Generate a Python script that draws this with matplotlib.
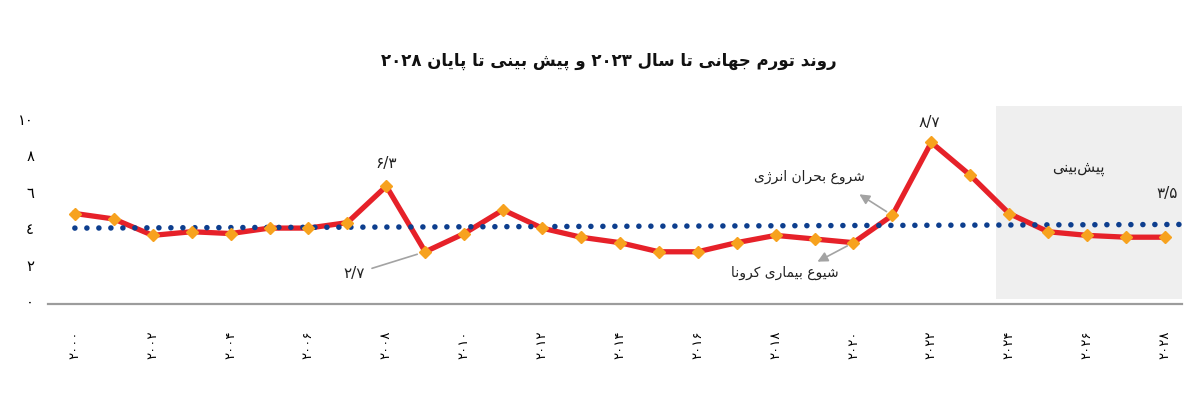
import matplotlib
matplotlib.use("Agg")
import matplotlib.pyplot as plt
from matplotlib import font_manager
from matplotlib.ft2font import FT2Font

# --- data -------------------------------------------------------------
years = list(range(2000, 2029))
inflation = [4.8, 4.5, 3.6, 3.8, 3.7, 4.0, 4.0, 4.3, 6.3, 2.7,
             3.7, 5.0, 4.0, 3.5, 3.2, 2.7, 2.7, 3.2, 3.6, 3.4,
             3.2, 4.7, 8.7, 6.9, 4.8, 3.8, 3.6, 3.5, 3.5]
trend_years = [2000, 2028.4]
trend_values = [4.0, 4.2]
forecast_from = 2023.65

x_ticks = list(range(2000, 2029, 2))
x_labels = ['۲۰۰۰', '۲۰۰۲', '۲۰۰۴', '۲۰۰۶', '۲۰۰۸', '۲۰۱۰', '۲۰۱۲', '۲۰۱۴',
            '۲۰۱۶', '۲۰۱۸', '۲۰۲۰', '۲۰۲۲', '۲۰۲۴', '۲۰۲۶', '۲۰۲۸']
y_ticks = [0, 2, 4, 6, 8, 10]
y_labels = ['۰', '۲', '٤', '٦', '۸', '۱۰']

title = 'روند تورم جهانی تا سال ۲۰۲۳ و پیش بینی تا پایان ۲۰۲۸'
value_notes = {2008: '۶/۳', 2009: '۲/۷', 2022: '۸/۷', 2028: '۳/۵'}
energy_note = 'شروع بحران انرژی'
covid_note = 'شیوع بیماری کرونا'
forecast_note = 'پیش\u200cبینی'

# --- minimal Persian shaping (matplotlib has no text shaping) ----------
# iso, final, initial, medial
FORMS = {
    'ا': (0xFE8D, 0xFE8E, None, None), 'ب': (0xFE8F, 0xFE90, 0xFE91, 0xFE92),
    'پ': (0xFB56, 0xFB57, 0xFB58, 0xFB59), 'ت': (0xFE95, 0xFE96, 0xFE97, 0xFE98),
    'ج': (0xFE9D, 0xFE9E, 0xFE9F, 0xFEA0), 'ح': (0xFEA1, 0xFEA2, 0xFEA3, 0xFEA4),
    'د': (0xFEA9, 0xFEAA, None, None), 'ر': (0xFEAD, 0xFEAE, None, None),
    'ز': (0xFEAF, 0xFEB0, None, None), 'ژ': (0xFB8A, 0xFB8B, None, None),
    'س': (0xFEB1, 0xFEB2, 0xFEB3, 0xFEB4), 'ش': (0xFEB5, 0xFEB6, 0xFEB7, 0xFEB8),
    'ع': (0xFEC9, 0xFECA, 0xFECB, 0xFECC), 'ک': (0xFB8E, 0xFB8F, 0xFB90, 0xFB91),
    'ل': (0xFEDD, 0xFEDE, 0xFEDF, 0xFEE0), 'م': (0xFEE1, 0xFEE2, 0xFEE3, 0xFEE4),
    'ن': (0xFEE5, 0xFEE6, 0xFEE7, 0xFEE8), 'ه': (0xFEE9, 0xFEEA, 0xFEEB, 0xFEEC),
    'و': (0xFEED, 0xFEEE, None, None), 'ی': (0xFBFC, 0xFBFD, 0xFBFE, 0xFBFF),
}


def fa(text):
    out = []
    for i, ch in enumerate(text):
        if ch not in FORMS:
            if ch != '\u200c':
                out.append(ch)
            continue
        prev = text[i - 1] if i > 0 else ''
        nxt = text[i + 1] if i + 1 < len(text) else ''
        join_prev = prev in FORMS and FORMS[prev][2] is not None
        join_next = nxt in FORMS and FORMS[ch][2] is not None
        iso, fin, ini, med = FORMS[ch]
        if join_prev and join_next:
            cp = med
        elif join_prev:
            cp = fin
        elif join_next:
            cp = ini
        else:
            cp = iso
        out.append(chr(cp))
    shaped = ''.join(out)
    if not any(c in FORMS for c in text):
        return shaped
    words = [w[::-1] if any(0xFB50 <= ord(c) <= 0xFEFF for c in w) else w
             for w in shaped.split(' ')]
    return ' '.join(reversed(words))


def weight_for(text, wanted):
    path = font_manager.findfont(font_manager.FontProperties(family='DejaVu Sans', weight=wanted))
    cmap = FT2Font(path).get_charmap()
    return wanted if all(ord(c) in cmap for c in text if c != ' ') else 'normal'


plt.rcParams['font.family'] = ['DejaVu Sans']

RED = '#e62129'
ORANGE = '#f7a21e'
BLUE = '#0d3e8e'
GREY = '#a3a3a3'

fig = plt.figure(figsize=(12, 4.03), dpi=100)
ax = fig.add_axes([0.04, 0.2457, 0.945, 0.4913])

ax.set_xlim(1999.31, 2028.44)
ax.set_ylim(-0.165, 10.7)

ax.axvspan(forecast_from, 2028.44, ymin=0.025, ymax=1, color='#efefef', lw=0, zorder=0)

ax.plot(years, inflation, color=RED, lw=3.8, solid_joinstyle='miter', zorder=2)
ax.plot(trend_years, trend_values, color=BLUE, lw=4.0, linestyle=(0, (0.01, 2.15)),
        dash_capstyle='round', zorder=3)
ax.plot(years, inflation, ls='none', marker='D', ms=6.4, color=ORANGE, mec=ORANGE, zorder=4)

for side in ['top', 'right', 'left']:
    ax.spines[side].set_visible(False)
ax.spines['bottom'].set_color('#9c9c9c')
ax.spines['bottom'].set_linewidth(1.6)

ax.set_xticks(x_ticks)
ax.set_xticklabels(x_labels, rotation=90, fontsize=9.5)
ax.set_yticks(y_ticks)
ax.set_yticklabels(y_labels, fontsize=10.5)
ax.tick_params(axis='x', length=0, pad=19)
ax.tick_params(axis='y', length=0, pad=10)

fig.text(0.5075, 0.849, fa(title), ha='center', va='center', fontsize=12,
         fontweight=weight_for(fa(title), 'bold'), color='#111111')

# value labels
offsets = {2008: (0, 23, 'center'), 2009: (-60, -22, 'right'),
           2022: (-2, 20, 'center'), 2028: (2, 44, 'center')}
for yr, txt in value_notes.items():
    dx, dy, ha = offsets[yr]
    val = inflation[years.index(yr)]
    props = None
    if yr == 2009:
        props = dict(arrowstyle='-', color=GREY, lw=1.2, shrinkA=3, shrinkB=6)
    ax.annotate(txt, xy=(yr, val), xytext=(dx, dy), textcoords='offset pixels',
                ha=ha, va='center', fontsize=11, color='#222222', arrowprops=props, zorder=5)

# event arrows
arrow = dict(arrowstyle='<|-,head_length=0.6,head_width=0.3', color=GREY, lw=1.2,
             shrinkA=0, shrinkB=5)
v2021 = inflation[years.index(2021)]
v2020 = inflation[years.index(2020)]
ax.annotate('', xy=(2021, v2021), xytext=(-33, 21), textcoords='offset pixels',
            arrowprops=arrow, zorder=5)
ax.annotate(fa(energy_note), xy=(2021, v2021), xytext=(-83, 38), textcoords='offset pixels',
            ha='center', va='center', fontsize=10, color='#222222')
ax.annotate('', xy=(2020, v2020), xytext=(-36, -19), textcoords='offset pixels',
            arrowprops=arrow, zorder=5)
ax.annotate(fa(covid_note), xy=(2020, v2020), xytext=(-69, -30), textcoords='offset pixels',
            ha='center', va='center', fontsize=10, color='#222222')

ax.text(0.909, 0.682, fa(forecast_note), transform=ax.transAxes, ha='center', va='center',
        fontsize=10.5, color='#222222')

fig.savefig('out.png', dpi=100)
